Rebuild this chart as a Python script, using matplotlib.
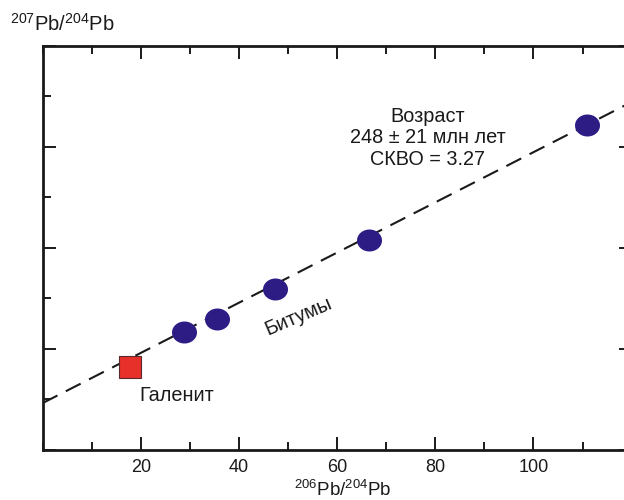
import matplotlib

matplotlib.use("Agg")

import matplotlib.pyplot as plt
import numpy as np
from matplotlib.path import Path
from matplotlib.ticker import MultipleLocator, NullFormatter


# 206Pb/204Pb and 207Pb/204Pb
GALENA_X = [17.9]
GALENA_Y = [15.64]
BITUMEN_X = [28.7, 35.6, 47.3, 66.5, 110.8]
BITUMEN_Y = [16.32, 16.59, 17.18, 18.15, 20.44]
ISOCHRON_X = [0.0, 120.0]
ISOCHRON_Y = [14.92, 20.89]

X_TICKS = [20, 40, 60, 80, 100]
AGE_LINES = ["Возраст", "248 ± 21 млн лет", "СКВО = 3.27"]

plt.rcParams["font.family"] = ["Liberation Sans", "DejaVu Sans"]
plt.rcParams["mathtext.default"] = "regular"

INK = "#1a1a1a"

# slightly flattened circle, as in the scan
theta = np.linspace(0, 2 * np.pi, 60)
ellipse = Path(np.column_stack([np.cos(theta), 0.88 * np.sin(theta)]), closed=True)

fig = plt.figure(figsize=(6.24, 5.0), dpi=100)
fig.patch.set_facecolor("white")
ax = fig.add_axes([0.0683, 0.101, 0.944, 0.807])

ax.plot(ISOCHRON_X, ISOCHRON_Y, color=INK, linewidth=1.5, dashes=(8, 4.5), zorder=2)
ax.plot(BITUMEN_X, BITUMEN_Y, linestyle="none", marker=ellipse, markersize=18,
        color="#2e1c85", markeredgewidth=0, zorder=3)
ax.plot(GALENA_X, GALENA_Y, linestyle="none", marker="s", markersize=15.5,
        markerfacecolor="#e8302a", markeredgecolor="#5a2a2a", markeredgewidth=0.8, zorder=3)

ax.set_xlim(0, 120)
ax.set_ylim(14, 22)
ax.xaxis.set_major_locator(MultipleLocator(20))
ax.xaxis.set_minor_locator(MultipleLocator(10))
ax.yaxis.set_major_locator(MultipleLocator(2))
ax.yaxis.set_minor_locator(MultipleLocator(1))
ax.set_xticks(X_TICKS)
ax.set_xticklabels([str(v) for v in X_TICKS])
ax.yaxis.set_major_formatter(NullFormatter())

ax.tick_params(which="both", direction="in", top=True, right=True, color=INK,
               width=1.4, labelsize=13, pad=7, labelcolor=INK)
ax.tick_params(which="major", length=9.5)
ax.tick_params(which="minor", length=6)
for side in ax.spines.values():
    side.set_linewidth(2.0)
    side.set_color(INK)

fs = 14.3
ax.text(19.7, 14.96, "Галенит", fontsize=fs, color=INK, ha="left", va="baseline")
ax.text(52.1, 16.63, "Битумы", fontsize=fs, color=INK, ha="center", va="center",
        rotation=23, rotation_mode="anchor")
for line, yb in zip(AGE_LINES, [20.49, 20.07, 19.64]):
    ax.text(78.4, yb, line, fontsize=fs, color=INK, ha="center", va="baseline")

fig.text(343 / 624, 1 - 496 / 500, r"$^{206}$Pb/$^{204}$Pb", fontsize=13.5,
         color=INK, ha="center", va="baseline")
fig.text(10 / 624, 1 - 31 / 500, r"$^{207}$Pb/$^{204}$Pb", fontsize=14.5, color=INK,
         ha="left", va="baseline")

fig.savefig("out.png", dpi=100)
